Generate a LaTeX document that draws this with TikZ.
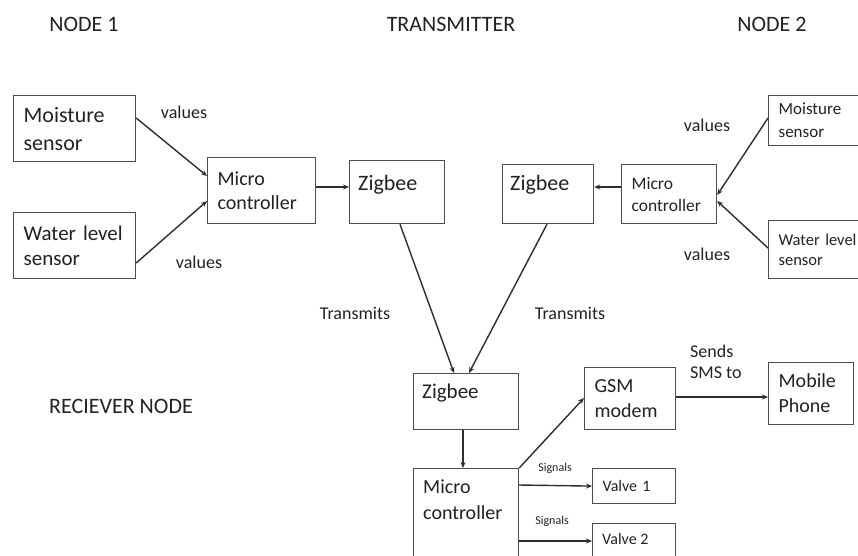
\documentclass[tikz,border=0pt]{standalone}
\usepackage{fontspec}
\setmainfont{Carlito}
\usetikzlibrary{arrows.meta,calc}
\newcommand\myfs[2]{\fontsize{#1}{#2}\selectfont}
\definecolor{txtcol}{HTML}{222222}
\definecolor{boxcol}{HTML}{4D4D4D}
\definecolor{arrcol}{HTML}{2E2E2E}
\begin{document}
\begin{tikzpicture}[x=1pt,y=-1pt,
  box/.style={draw=boxcol, line width=1.2pt, anchor=north west, align=left,
    inner xsep=10pt, inner ysep=0pt, text=txtcol},
  txt/.style={text=txtcol, inner sep=0pt},
  conn/.style={draw=arrcol, line width=1.4pt, -{Stealth[length=6pt,width=5pt]}}]
\useasboundingbox (0,0) rectangle (858,555);
\clip (0,0) rectangle (858,555);
\fill[white] (0,0) rectangle (858,555);

% titles
\node[txt, font=\myfs{22}{27}] (t1) at (84,24) {NODE 1};
\node[txt, font=\myfs{22}{27}] (t2) at (451,24) {TRANSMITTER};
\node[txt, font=\myfs{22}{27}] (t3) at (772,24) {NODE 2};
\node[txt, font=\myfs{22}{27}] (t4) at (121,406) {RECIEVER NODE};

% node 1
\node[box, font=\myfs{22}{28}, text width=102pt, minimum height=66pt] (ms1) at (13,95) {Moisture\\sensor};
\node[box, font=\myfs{21}{25}, text width=102pt, minimum height=66pt] (wl1) at (13,212) {Water level\\sensor};
\node[box, font=\myfs{20}{24}, text width=88pt, minimum height=66pt] (mc1) at (207,157) {Micro\\controller};
\node[box, text width=75pt, minimum height=63pt] (zb1) at (349,160) {};
\node[txt, font=\myfs{22}{27}, anchor=west] (zb1t) at ([xshift=9pt,yshift=-25pt]zb1.north west) {Zigbee};

% node 2
\node[box, text width=71pt, minimum height=59pt] (zb2) at (502,164) {};
\node[txt, font=\myfs{22}{27}, anchor=west] (zb2t) at ([xshift=8pt,yshift=-21pt]zb2.north west) {Zigbee};
\node[box, font=\myfs{17.5}{22}, text width=75pt, minimum height=59pt] (mc2) at (621,164) {Micro\\controller};
\node[box, font=\myfs{17}{23}, text width=90pt, minimum height=50pt] (ms2) at (768,95) {Moisture\\sensor};
\node[box, font=\myfs{16.5}{20}, text width=90pt, minimum height=58pt] (wl2) at (768,220) {Water level\\sensor};

% receiver
\node[box, text width=85pt, minimum height=56pt] (zbr) at (413,373) {};
\node[txt, font=\myfs{21}{26}, anchor=west] (zbrt) at ([xshift=9pt,yshift=-20pt]zbr.north west) {Zigbee};
\node[box, text width=85pt, minimum height=130pt] (mcr) at (413,468) {};
\node[txt, font=\myfs{20}{26}, anchor=west, align=left] (mcrt) at ([xshift=10pt,yshift=-32pt]mcr.north west) {Micro\\controller};
\node[box, font=\myfs{20}{25}, text width=71pt, minimum height=62pt] (gsm) at (584,367) {GSM\\modem};
\node[box, font=\myfs{20}{25}, text width=65pt, minimum height=62pt] (mob) at (768,362) {Mobile\\Phone};
\node[box, font=\myfs{16}{20}, text width=63pt, minimum height=35pt] (v1) at (592,468) {Valve 1};
\node[box, text width=63pt, minimum height=50pt] (v2) at (592,523) {};
\node[txt, font=\myfs{16}{20}, anchor=west] (v2t) at ([xshift=10pt,yshift=-16pt]v2.north west) {Valve 2};

% connectors
\draw[conn] ([yshift=-23pt]ms1.north east) -- ([yshift=-19pt]mc1.north west);
\draw[conn] ([yshift=-51pt]wl1.north east) -- ([yshift=-44pt]mc1.north west);
\draw[conn] ([yshift=-30pt]mc1.north east) -- ([yshift=-27pt]zb1.north west);
\draw[conn] ([yshift=-23pt]mc2.north west) -- ([yshift=-23pt]zb2.north east);
\draw[conn] ([yshift=-23pt]ms2.north west) -- ([yshift=-31pt]mc2.north east);
\draw[conn] ([yshift=-28pt]wl2.north west) -- ([yshift=-37pt]mc2.north east);
\draw[conn] ([xshift=51pt]zb1.south west) -- ([xshift=41pt]zbr.north west);
\draw[conn] ([xshift=45pt]zb2.south west) -- ([xshift=56pt]zbr.north west);
\draw[conn] ([xshift=50pt]zbr.south west) -- ([xshift=50pt]mcr.north west);
\draw[conn] (mcr.north east) -- ([yshift=-31pt]gsm.north west);
\draw[conn] ([yshift=-30pt]gsm.north east) -- ([yshift=-35pt]mob.north west);
\draw[conn] ([yshift=-17pt]mcr.north east) -- (v1.west);
\draw[conn] ([yshift=-73pt]mcr.north east) -- ([yshift=-18pt]v2.north west);

% labels
\node[txt, font=\myfs{18}{22}] (lv1) at (184,112) {values};
\node[txt, font=\myfs{18}{22}] (lv2) at (199,262) {values};
\node[txt, font=\myfs{18}{22}] (lv3) at (707,125) {values};
\node[txt, font=\myfs{18}{22}] (lv4) at (707,254) {values};
\node[txt, font=\myfs{18}{22}] (ltr1) at (355,313) {Transmits};
\node[txt, font=\myfs{18}{22}] (ltr2) at (570,313) {Transmits};
\node[txt, font=\myfs{18}{21}, anchor=west, align=left] (lsms) at (690,362) {Sends\\SMS to};
\node[txt, font=\myfs{12}{14}] (lsg1) at (555,468) {Signals};
\node[txt, font=\myfs{12}{14}] (lsg2) at (552,521) {Signals};
\end{tikzpicture}
\end{document}
